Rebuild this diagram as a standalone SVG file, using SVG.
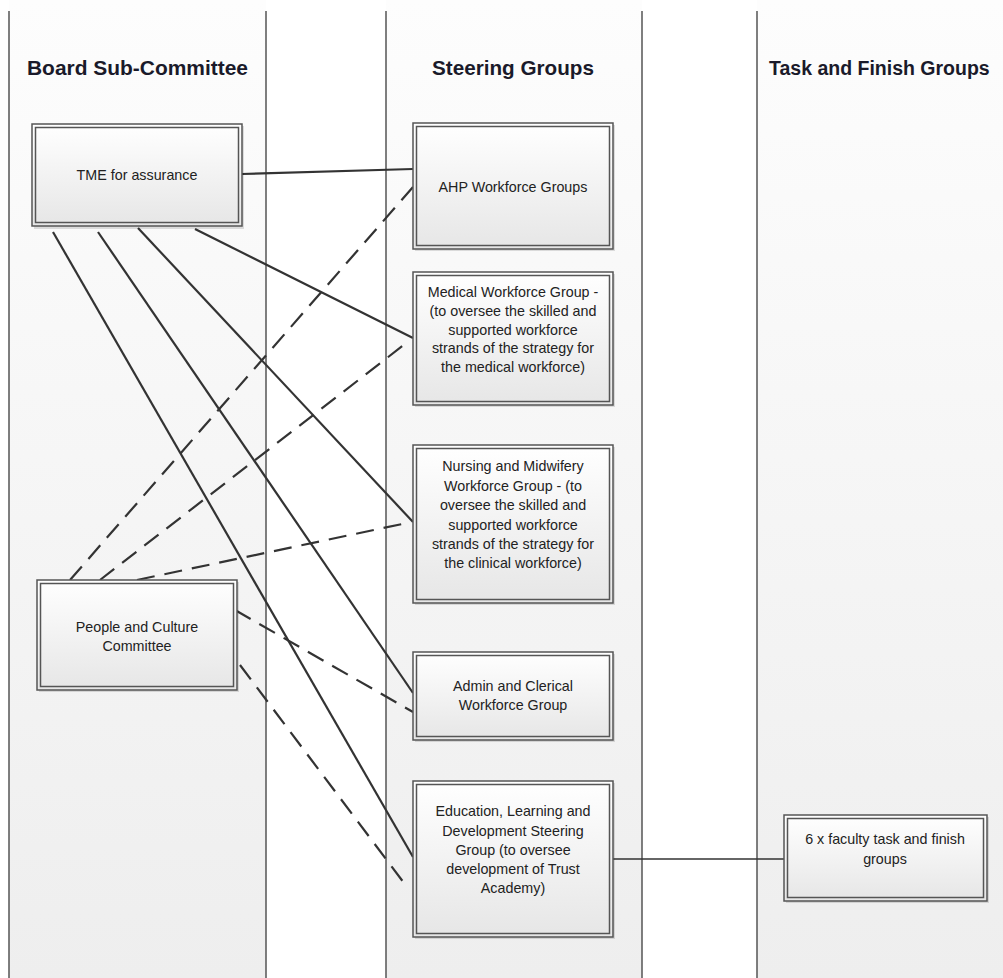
<svg xmlns="http://www.w3.org/2000/svg" width="1003" height="978" viewBox="0 0 1003 978">
<defs>
<linearGradient id="lane" x1="0" y1="0" x2="0" y2="1">
<stop offset="0" stop-color="#fdfdfd"/><stop offset="1" stop-color="#eeeeee"/>
</linearGradient>
<linearGradient id="box" x1="0" y1="0" x2="0" y2="1">
<stop offset="0" stop-color="#ffffff"/><stop offset="1" stop-color="#e6e6e6"/>
</linearGradient>
</defs>
<style>
.lane{fill:url(#lane);}
.div{stroke:#555;stroke-width:1.5;fill:none;}
.hdr{font-family:"Liberation Sans",Arial,sans-serif;font-weight:bold;font-size:21px;fill:#1a1a2a;}
.shadow{fill:#000;opacity:0.12;}
.outer{fill:url(#box);stroke:#555;stroke-width:1.5;}
.inner{fill:none;stroke:#555;stroke-width:1.5;}
.t{font-family:"Liberation Sans",Arial,sans-serif;font-size:14.3px;fill:#222;text-anchor:middle;}
.solid{stroke:#333;stroke-width:2.2;fill:none;}
.dash{stroke:#333;stroke-width:2.2;fill:none;stroke-dasharray:18 10;}
.thin{stroke:#333;stroke-width:1.5;fill:none;}
</style>
<rect x="0" y="0" width="1003" height="978" fill="#ffffff"/>
<g id="lanes">
<rect class="lane" x="9" y="0" width="257" height="978"/>
<rect class="lane" x="386" y="0" width="256" height="978"/>
<rect class="lane" x="757" y="0" width="246" height="978"/>
<line class="div" x1="9" y1="11" x2="9" y2="978"/>
<line class="div" x1="266" y1="11" x2="266" y2="978"/>
<line class="div" x1="386" y1="11" x2="386" y2="978"/>
<line class="div" x1="642" y1="11" x2="642" y2="978"/>
<line class="div" x1="757" y1="11" x2="757" y2="978"/>
<text class="hdr" x="27" y="75" textLength="221" lengthAdjust="spacingAndGlyphs">Board Sub-Committee</text>
<text class="hdr" x="432" y="75" textLength="162" lengthAdjust="spacingAndGlyphs">Steering Groups</text>
<text class="hdr" x="769" y="75" style="font-size:19.5px">Task and Finish Groups</text>
</g>
<g id="connectors">
<line class="solid" x1="242" y1="174" x2="413" y2="169"/>
<line class="solid" x1="195" y1="229" x2="413" y2="338"/>
<line class="solid" x1="138" y1="228" x2="413" y2="522"/>
<line class="solid" x1="98" y1="232" x2="413" y2="693"/>
<line class="solid" x1="53" y1="232" x2="413" y2="857"/>
<line class="dash" x1="70" y1="580" x2="413" y2="187"/>
<line class="dash" x1="100" y1="580" x2="405" y2="344"/>
<line class="dash" x1="137" y1="580" x2="407" y2="523"/>
<line class="dash" x1="235" y1="610" x2="413" y2="712"/>
<line class="dash" x1="240" y1="665" x2="407" y2="887"/>
<line class="thin" x1="613" y1="859" x2="784" y2="859"/>
</g>
<g id="tme">
<rect class="shadow" x="34" y="126" width="210" height="103"/>
<rect class="outer" x="32" y="124" width="210" height="102"/>
<rect class="inner" x="35.5" y="127.5" width="203" height="95"/>
<text class="t" x="137" y="180">TME for assurance</text>
</g>
<g id="people">
<rect class="shadow" x="39" y="582" width="200" height="110"/>
<rect class="outer" x="37" y="580" width="200" height="110"/>
<rect class="inner" x="40.5" y="583.5" width="193" height="103"/>
<text class="t" x="137" y="632">People and Culture</text>
<text class="t" x="137" y="651">Committee</text>
</g>
<g id="ahp">
<rect class="shadow" x="415" y="125" width="200" height="126"/>
<rect class="outer" x="413" y="123" width="200" height="126"/>
<rect class="inner" x="416.5" y="126.5" width="193" height="119"/>
<text class="t" x="513" y="192">AHP Workforce Groups</text>
</g>
<g id="medical">
<rect class="shadow" x="415" y="274" width="200" height="133"/>
<rect class="outer" x="413" y="272" width="200" height="133"/>
<rect class="inner" x="416.5" y="275.5" width="193" height="126"/>
<text class="t" x="513" y="297">Medical Workforce Group -</text>
<text class="t" x="513" y="316">(to oversee the skilled and</text>
<text class="t" x="513" y="335">supported workforce</text>
<text class="t" x="513" y="353">strands of the strategy for</text>
<text class="t" x="513" y="372">the medical workforce)</text>
</g>
<g id="nursing">
<rect class="shadow" x="415" y="447" width="200" height="158"/>
<rect class="outer" x="413" y="445" width="200" height="158"/>
<rect class="inner" x="416.5" y="448.5" width="193" height="151"/>
<text class="t" x="513" y="471">Nursing and Midwifery</text>
<text class="t" x="513" y="491">Workforce Group - (to</text>
<text class="t" x="513" y="510">oversee the skilled and</text>
<text class="t" x="513" y="530">supported workforce</text>
<text class="t" x="513" y="549">strands of the strategy for</text>
<text class="t" x="513" y="568">the clinical workforce)</text>
</g>
<g id="admin">
<rect class="shadow" x="415" y="654" width="200" height="88"/>
<rect class="outer" x="413" y="652" width="200" height="88"/>
<rect class="inner" x="416.5" y="655.5" width="193" height="81"/>
<text class="t" x="513" y="691">Admin and Clerical</text>
<text class="t" x="513" y="710">Workforce Group</text>
</g>
<g id="education">
<rect class="shadow" x="415" y="783" width="200" height="156"/>
<rect class="outer" x="413" y="781" width="200" height="156"/>
<rect class="inner" x="416.5" y="784.5" width="193" height="149"/>
<text class="t" x="513" y="816">Education, Learning and</text>
<text class="t" x="513" y="836">Development Steering</text>
<text class="t" x="513" y="855">Group (to oversee</text>
<text class="t" x="513" y="874">development of Trust</text>
<text class="t" x="513" y="893">Academy)</text>
</g>
<g id="faculty">
<rect class="shadow" x="786" y="817" width="203" height="86"/>
<rect class="outer" x="784" y="815" width="203" height="86"/>
<rect class="inner" x="787.5" y="818.5" width="196" height="79"/>
<text class="t" x="885" y="844">6 x faculty task and finish</text>
<text class="t" x="885" y="864">groups</text>
</g>
</svg>
